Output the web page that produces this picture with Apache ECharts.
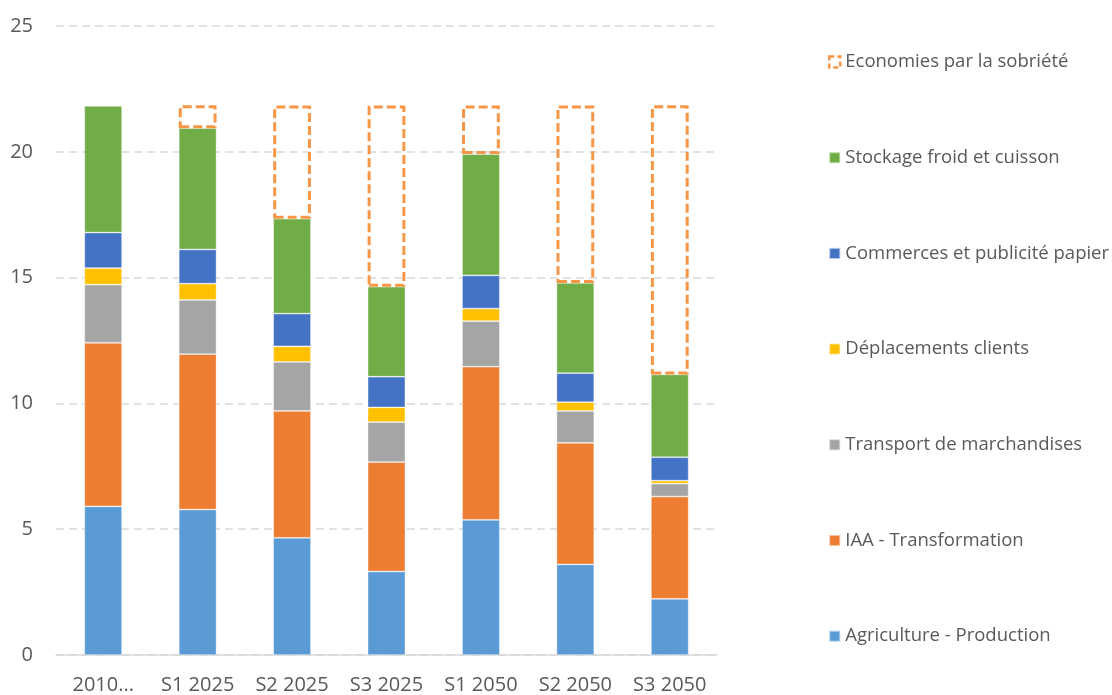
<!DOCTYPE html>
<html>
<head>
<meta charset="utf-8">
<title>Emissions par scénario</title>
<script src="https://cdn.jsdelivr.net/npm/echarts@6/dist/echarts.min.js"></script>
<style>
    html, body { margin: 0; padding: 0; background: #fff; }
    #graph-scenarios { width: 1112px; height: 695px; }
</style>
</head>
<body>
<div id="graph-scenarios"></div>
<script>
'use strict';

const categories = ['2010...', 'S1 2025', 'S2 2025', 'S3 2025', 'S1 2050', 'S2 2050', 'S3 2050'];

const agriculture = [5.91, 5.78, 4.66, 3.32, 5.37, 3.60, 2.23];
const transformation = [6.50, 6.18, 5.04, 4.35, 6.09, 4.83, 4.07];
const transport = [2.31, 2.15, 1.95, 1.59, 1.81, 1.27, 0.51];
const deplacements = [0.66, 0.65, 0.62, 0.58, 0.50, 0.35, 0.12];
const commerces = [1.41, 1.36, 1.30, 1.22, 1.32, 1.15, 0.93];
const stockage = [5.04, 4.82, 3.77, 3.58, 4.82, 3.59, 3.29];
const economies = [null, 0.91, 4.50, 7.20, 1.93, 7.05, 10.70];

const yTicks = { min: 0, max: 25, interval: 5 };

const textColor = '#595959';
const fontFamily = '"Open Sans", "Noto Sans", sans-serif';

const stacked = [
    { name: 'Agriculture - Production', data: agriculture, color: '#5B9BD5' },
    { name: 'IAA - Transformation', data: transformation, color: '#ED7D31' },
    { name: 'Transport de marchandises', data: transport, color: '#A5A5A5' },
    { name: 'Déplacements clients', data: deplacements, color: '#FFC000' },
    { name: 'Commerces et publicité papier', data: commerces, color: '#4472C4' },
    { name: 'Stockage froid et cuisson', data: stockage, color: '#70AD47' },
];

function options() {
    const series = stacked.map((s) => ({
        name: s.name,
        type: 'bar',
        stack: 'total',
        barWidth: '40%',
        data: s.data,
        itemStyle: {
            color: s.color,
            borderColor: 'rgba(255,255,255,0.55)',
            borderWidth: 0.75,
        },
    }));

    // la sobriété : boîte vide en pointillés au-dessus de la pile
    series.push({
        name: 'Economies par la sobriété',
        type: 'bar',
        stack: 'total',
        barWidth: '40%',
        data: economies,
        itemStyle: {
            color: 'rgba(255,255,255,0)',
            borderColor: '#F79646',
            borderWidth: 3,
            borderType: [9, 4],
        },
    });

    const legendNames = series.map((s) => s.name).reverse();

    return {
        animation: false,
        textStyle: { fontFamily: fontFamily },
        grid: { left: 56, right: 395, top: 26, bottom: 39 },
        legend: {
            orient: 'vertical',
            left: 828,
            top: 52,
            padding: 0,
            itemWidth: 11,
            itemHeight: 11,
            itemGap: 75.7,
            icon: 'rect',
            textStyle: { color: textColor, fontSize: 18.5, lineHeight: 20, fontFamily: fontFamily },
            data: legendNames.map((n) => n === 'Economies par la sobriété'
                ? { name: n, itemStyle: { color: '#fff', borderColor: '#F79646', borderWidth: 2.5, borderType: [5, 3] } }
                : { name: n }),
        },
        xAxis: {
            type: 'category',
            data: categories,
            axisTick: { show: false },
            axisLine: { lineStyle: { color: '#d9d9d9', width: 1.5 } },
            axisLabel: { color: textColor, fontSize: 20, margin: 20, interval: 0, fontFamily: fontFamily },
        },
        yAxis: {
            type: 'value',
            min: yTicks.min,
            max: yTicks.max,
            interval: yTicks.interval,
            axisLine: { show: false },
            axisTick: { show: false },
            axisLabel: { color: textColor, fontSize: 20, margin: 23, fontFamily: fontFamily },
            splitLine: { lineStyle: { color: '#d9d9d9', width: 1.5, type: [8, 5] } },
        },
        series: series,
    };
}

document.addEventListener('DOMContentLoaded', () => {
    const el = document.getElementById('graph-scenarios');
    const chart = echarts.init(el);
    chart.setOption(options());
});
</script>
</body>
</html>
